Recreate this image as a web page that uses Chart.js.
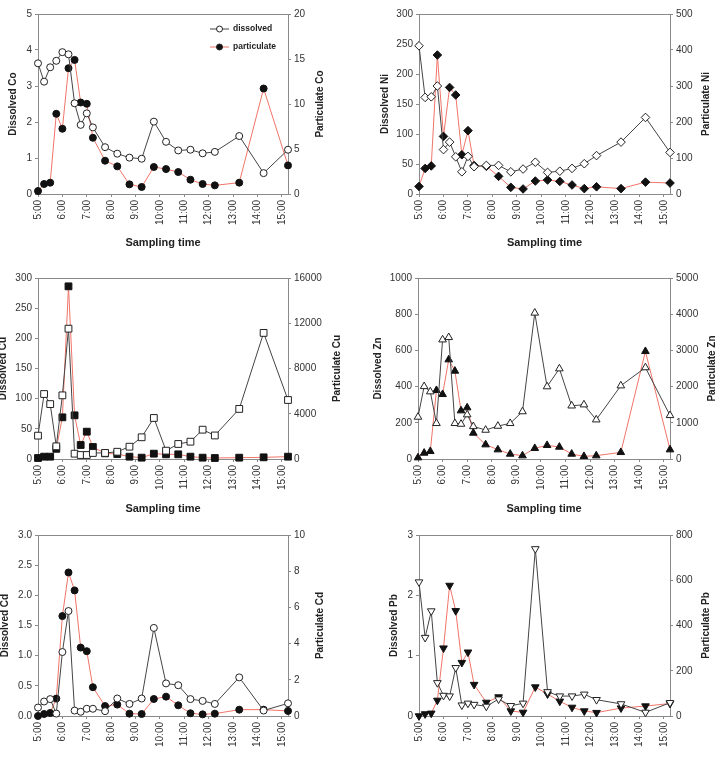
<!DOCTYPE html>
<html>
<head>
<meta charset="utf-8">
<script src="https://cdn.jsdelivr.net/npm/chart.js@4.4.1/dist/chart.umd.min.js"></script>
<style>
  html, body { margin: 0; padding: 0; background: #fff; }
  #wrap { position: relative; width: 716px; height: 761px; overflow: hidden; }
  #wrap canvas { position: absolute; }
</style>
</head>
<body>
<div id="wrap"></div>
<script>
// sampling times (h:mm)
const sampleTimes = ['5:00', '5:15', '5:30', '5:45', '6:00', '6:15', '6:30', '6:45', '7:00', '7:15', '7:45', '8:15',
    '8:45', '9:15', '9:45', '10:15', '10:45', '11:15', '11:45', '12:15', '13:15', '14:15', '15:15']

const coDissolved = [3.63, 3.12, 3.52, 3.70, 3.94, 3.88, 2.52, 1.92, 2.24, 1.85, 1.30, 1.12, 1.01, 0.98, 2.01, 1.45, 1.21, 1.23, 1.13, 1.17, 1.61, 0.58, 1.23]
const coParticulate = [0.33, 1.11, 1.26, 8.91, 7.25, 13.98, 14.9, 10.17, 10.02, 6.25, 3.70, 3.07, 1.07, 0.78, 3.0, 2.77, 2.44, 1.59, 1.11, 0.96, 1.26, 11.72, 3.18]

const niDissolved = [247, 161, 162, 180, 74, 86.5, 62, 37, 62.7, 45.5, 47.7, 47.7, 37, 41.6, 53, 36, 38, 42.7, 50.5, 64, 86.5, 127.6, 69.3]
const niParticulate = [21, 71, 78, 386, 160, 296, 275, 109, 176, 79, 77, 49, 18.5, 14, 36, 39, 35, 25, 15, 20, 15, 33, 30.5]

const cuDissolved = [38.7, 107.7, 91, 21, 105.5, 216, 8.8, 6.6, 6.6, 10, 10, 12, 20.4, 36, 68, 13.8, 24.9, 28.7, 48.6, 39, 83, 209, 97.8]
const cuParticulate = [88, 206, 206, 900, 3683, 15262, 3860, 1237, 2416, 1060, 500, 442, 206, 118, 471, 412, 412, 206, 118, 88, 118, 147, 206]

const znDissolved = [232, 401, 372, 197, 659, 672, 197, 193, 245, 180, 160, 182, 197, 262, 807, 400, 499, 294, 300, 217, 405, 505, 241]
const znParticulate = [37, 166, 212, 1897, 1786, 2744, 2431, 1335, 1418, 718, 396, 258, 138, 92, 295, 378, 331, 138, 74, 92, 184, 2974, 258]

const cdDissolved = [0.14, 0.24, 0.28, 0.04, 1.06, 1.74, 0.09, 0.07, 0.12, 0.12, 0.08, 0.29, 0.20, 0.29, 1.46, 0.54, 0.51, 0.28, 0.25, 0.20, 0.64, 0.09, 0.21]
const cdParticulate = [0.0, 0.11, 0.17, 0.96, 5.52, 7.93, 6.94, 3.78, 3.58, 1.59, 0.55, 0.63, 0.13, 0.11, 0.94, 1.07, 0.59, 0.15, 0.09, 0.13, 0.35, 0.35, 0.28]

const pbDissolved = [2.22, 1.30, 1.74, 0.55, 0.34, 0.33, 0.80, 0.18, 0.21, 0.19, 0.16, 0.28, 0.17, 0.21, 2.77, 0.40, 0.33, 0.33, 0.36, 0.27, 0.20, 0.06, 0.22]
const pbParticulate = [0, 9, 12, 69, 300, 577, 465, 236, 282, 139, 60, 84, 22, 16, 128, 97, 65, 38, 22, 15, 35, 44, 55]

// axis ranges [max, step]
const coRange = { dissolved: [5, 1], particulate: [20, 5] }
const niRange = { dissolved: [300, 50], particulate: [500, 100] }
const cuRange = { dissolved: [300, 50], particulate: [16000, 4000] }
const znRange = { dissolved: [1000, 200], particulate: [5000, 1000] }
const cdRange = { dissolved: [3, 0.5], particulate: [10, 2] }
const pbRange = { dissolved: [3, 1], particulate: [800, 200] }

const legendLabels = ['dissolved', 'particulate']


const FONT = "'Liberation Sans', Arial, sans-serif"
const AXIS = '#8a8a8a'
const TEXT = '#333'
const RED = '#f07468'

const toMin = t => {
    const [h, m] = t.split(':')
    return Number(h) * 60 + Number(m)
}

const series = values => values.map((v, i) => ({ x: toMin(sampleTimes[i]), y: v }))

// frame top line, right-hand title and the legend
const panelDecor = {
    id: 'panelDecor',
    afterDraw(chart, args, opts) {
        const { ctx, chartArea: a } = chart
        ctx.save()
        ctx.strokeStyle = AXIS
        ctx.lineWidth = 1
        ctx.beginPath()
        ctx.moveTo(a.left, a.top + 0.5)
        ctx.lineTo(a.right, a.top + 0.5)
        ctx.stroke()

        ctx.fillStyle = '#222'
        ctx.font = `bold 10px ${FONT}`
        ctx.textAlign = 'center'
        ctx.textBaseline = 'middle'
        ctx.translate(opts.rightX, (a.top + a.bottom) / 2)
        ctx.rotate(-Math.PI / 2)
        ctx.fillText(opts.rightTitle, 0, 0)
        ctx.restore()

        if (!opts.legend) return
        const rows = [
            { label: legendLabels[0], line: '#444', fill: '#fff', y: 29 },
            { label: legendLabels[1], line: RED, fill: '#111', y: 47 }
        ]
        ctx.save()
        rows.forEach(r => {
            ctx.strokeStyle = r.line
            ctx.lineWidth = 1
            ctx.beginPath()
            ctx.moveTo(210, r.y)
            ctx.lineTo(229, r.y)
            ctx.stroke()
            ctx.beginPath()
            ctx.arc(219.5, r.y, 3, 0, Math.PI * 2)
            ctx.fillStyle = r.fill
            ctx.fill()
            ctx.strokeStyle = '#222'
            ctx.stroke()
            ctx.fillStyle = '#222'
            ctx.font = `bold 8.5px ${FONT}`
            ctx.textAlign = 'left'
            ctx.textBaseline = 'middle'
            ctx.fillText(r.label, 233, r.y)
        })
        ctx.restore()
    }
}

Chart.register(panelDecor)


const panels = [
    { metal: 'Co', d: coDissolved, p: coParticulate, range: coRange, style: 'circle', radius: 3.5,
      box: [0, 0, 358, 250], leftW: 38, rightW: 70, top: 14, xH: 56, leftPad: 7, rightX: 320, xTitle: true, xPad: 0, legend: true },
    { metal: 'Ni', d: niDissolved, p: niParticulate, range: niRange, style: 'rectRot', radius: 4.3,
      box: [358, 0, 358, 250], leftW: 61, rightW: 46, top: 14, xH: 56, leftPad: 21, rightX: 348, xTitle: true, xPad: 0 },
    { metal: 'Cu', d: cuDissolved, p: cuParticulate, range: cuRange, style: 'rect', radius: 4.8,
      box: [0, 250, 358, 270], leftW: 38, rightW: 70, top: 28, xH: 61, leftPad: -3, rightX: 337, xTitle: true, xPad: 4 },
    { metal: 'Zn', d: znDissolved, p: znParticulate, range: znRange, style: 'triangle', radius: 4.4,
      box: [358, 250, 358, 270], leftW: 60, rightW: 46, top: 28, xH: 61, leftPad: 14, rightX: 354, xTitle: true, xPad: 4 },
    { metal: 'Cd', d: cdDissolved, p: cdParticulate, range: cdRange, style: 'circle', radius: 3.5,
      box: [0, 520, 358, 241], leftW: 38, rightW: 70, top: 15, xH: 45, leftPad: -1, rightX: 320, xTitle: false, xPad: 0 },
    { metal: 'Pb', d: pbDissolved, p: pbParticulate, range: pbRange, style: 'triangle', rotation: 180, radius: 4.4,
      box: [358, 520, 358, 241], leftW: 61, rightW: 46, top: 15, xH: 45, leftPad: 30, rightX: 348, xTitle: false, xPad: 0 }
]


const drawPanel = cfg => {

    const [left, top, w, h] = cfg.box
    const canvas = document.createElement('canvas')
    canvas.width = w
    canvas.height = h
    canvas.style.left = left + 'px'
    canvas.style.top = top + 'px'
    document.getElementById('wrap').appendChild(canvas)

    const tickFont = { family: FONT, size: 10 }
    const tickGrid = { drawOnChartArea: false, tickLength: 3, color: AXIS }
    const border = { color: AXIS, width: 1 }

    const data = {
        datasets: [
            {
                label: 'dissolved',
                data: series(cfg.d),
                yAxisID: 'y',
                clip: false,
                borderColor: '#444',
                borderWidth: 1,
                pointStyle: cfg.style,
                rotation: cfg.rotation || 0,
                pointRadius: cfg.radius,
                pointBackgroundColor: '#fff',
                pointBorderColor: '#222',
                pointBorderWidth: 1
            },
            {
                label: 'particulate',
                data: series(cfg.p),
                yAxisID: 'y1',
                clip: false,
                borderColor: RED,
                borderWidth: 1,
                pointStyle: cfg.style,
                rotation: cfg.rotation || 0,
                pointRadius: cfg.radius,
                pointBackgroundColor: '#111',
                pointBorderColor: '#111',
                pointBorderWidth: 1
            }
        ]
    }

    const options = {
        responsive: false,
        animation: false,
        devicePixelRatio: 1,
        layout: { padding: { top: cfg.top, left: 0, right: 0, bottom: 0 } },
        plugins: {
            legend: { display: false },
            tooltip: { enabled: false },
            panelDecor: { rightTitle: 'Particulate ' + cfg.metal, rightX: cfg.rightX, legend: !!cfg.legend }
        },
        scales: {
            x: {
                type: 'linear',
                min: toMin(sampleTimes[0]),
                max: toMin(sampleTimes[sampleTimes.length - 1]),
                afterFit: s => { s.height = cfg.xH },
                border,
                grid: tickGrid,
                ticks: {
                    stepSize: 60,
                    includeBounds: false,
                    autoSkip: false,
                    minRotation: 90,
                    maxRotation: 90,
                    padding: 3,
                    color: TEXT,
                    font: tickFont,
                    callback: v => Math.round(v / 60) + ':00'
                },
                title: {
                    display: cfg.xTitle,
                    text: 'Sampling time',
                    color: '#222',
                    font: { family: FONT, size: 11, weight: 'bold' },
                    padding: { top: 0, bottom: cfg.xPad }
                }
            },
            y: {
                position: 'left',
                min: 0,
                max: cfg.range.dissolved[0],
                afterFit: s => { s.width = cfg.leftW },
                border,
                grid: tickGrid,
                ticks: {
                    stepSize: cfg.range.dissolved[1],
                    padding: 3,
                    color: TEXT,
                    font: tickFont,
                    callback: v => cfg.range.dissolved[1] < 1 ? v.toFixed(1) : String(v)
                },
                title: {
                    display: true,
                    text: 'Dissolved ' + cfg.metal,
                    color: '#222',
                    font: { family: FONT, size: 10, weight: 'bold' },
                    padding: { top: cfg.leftPad, bottom: 0 }
                }
            },
            y1: {
                position: 'right',
                min: 0,
                max: cfg.range.particulate[0],
                afterFit: s => { s.width = cfg.rightW },
                border,
                grid: tickGrid,
                ticks: {
                    stepSize: cfg.range.particulate[1],
                    padding: 3,
                    color: TEXT,
                    font: tickFont,
                    callback: v => String(v)
                }
            }
        }
    }

    new Chart(canvas, {
        type: 'line',
        data,
        options
    })
}


panels.forEach(drawPanel)
</script>
</body>
</html>
